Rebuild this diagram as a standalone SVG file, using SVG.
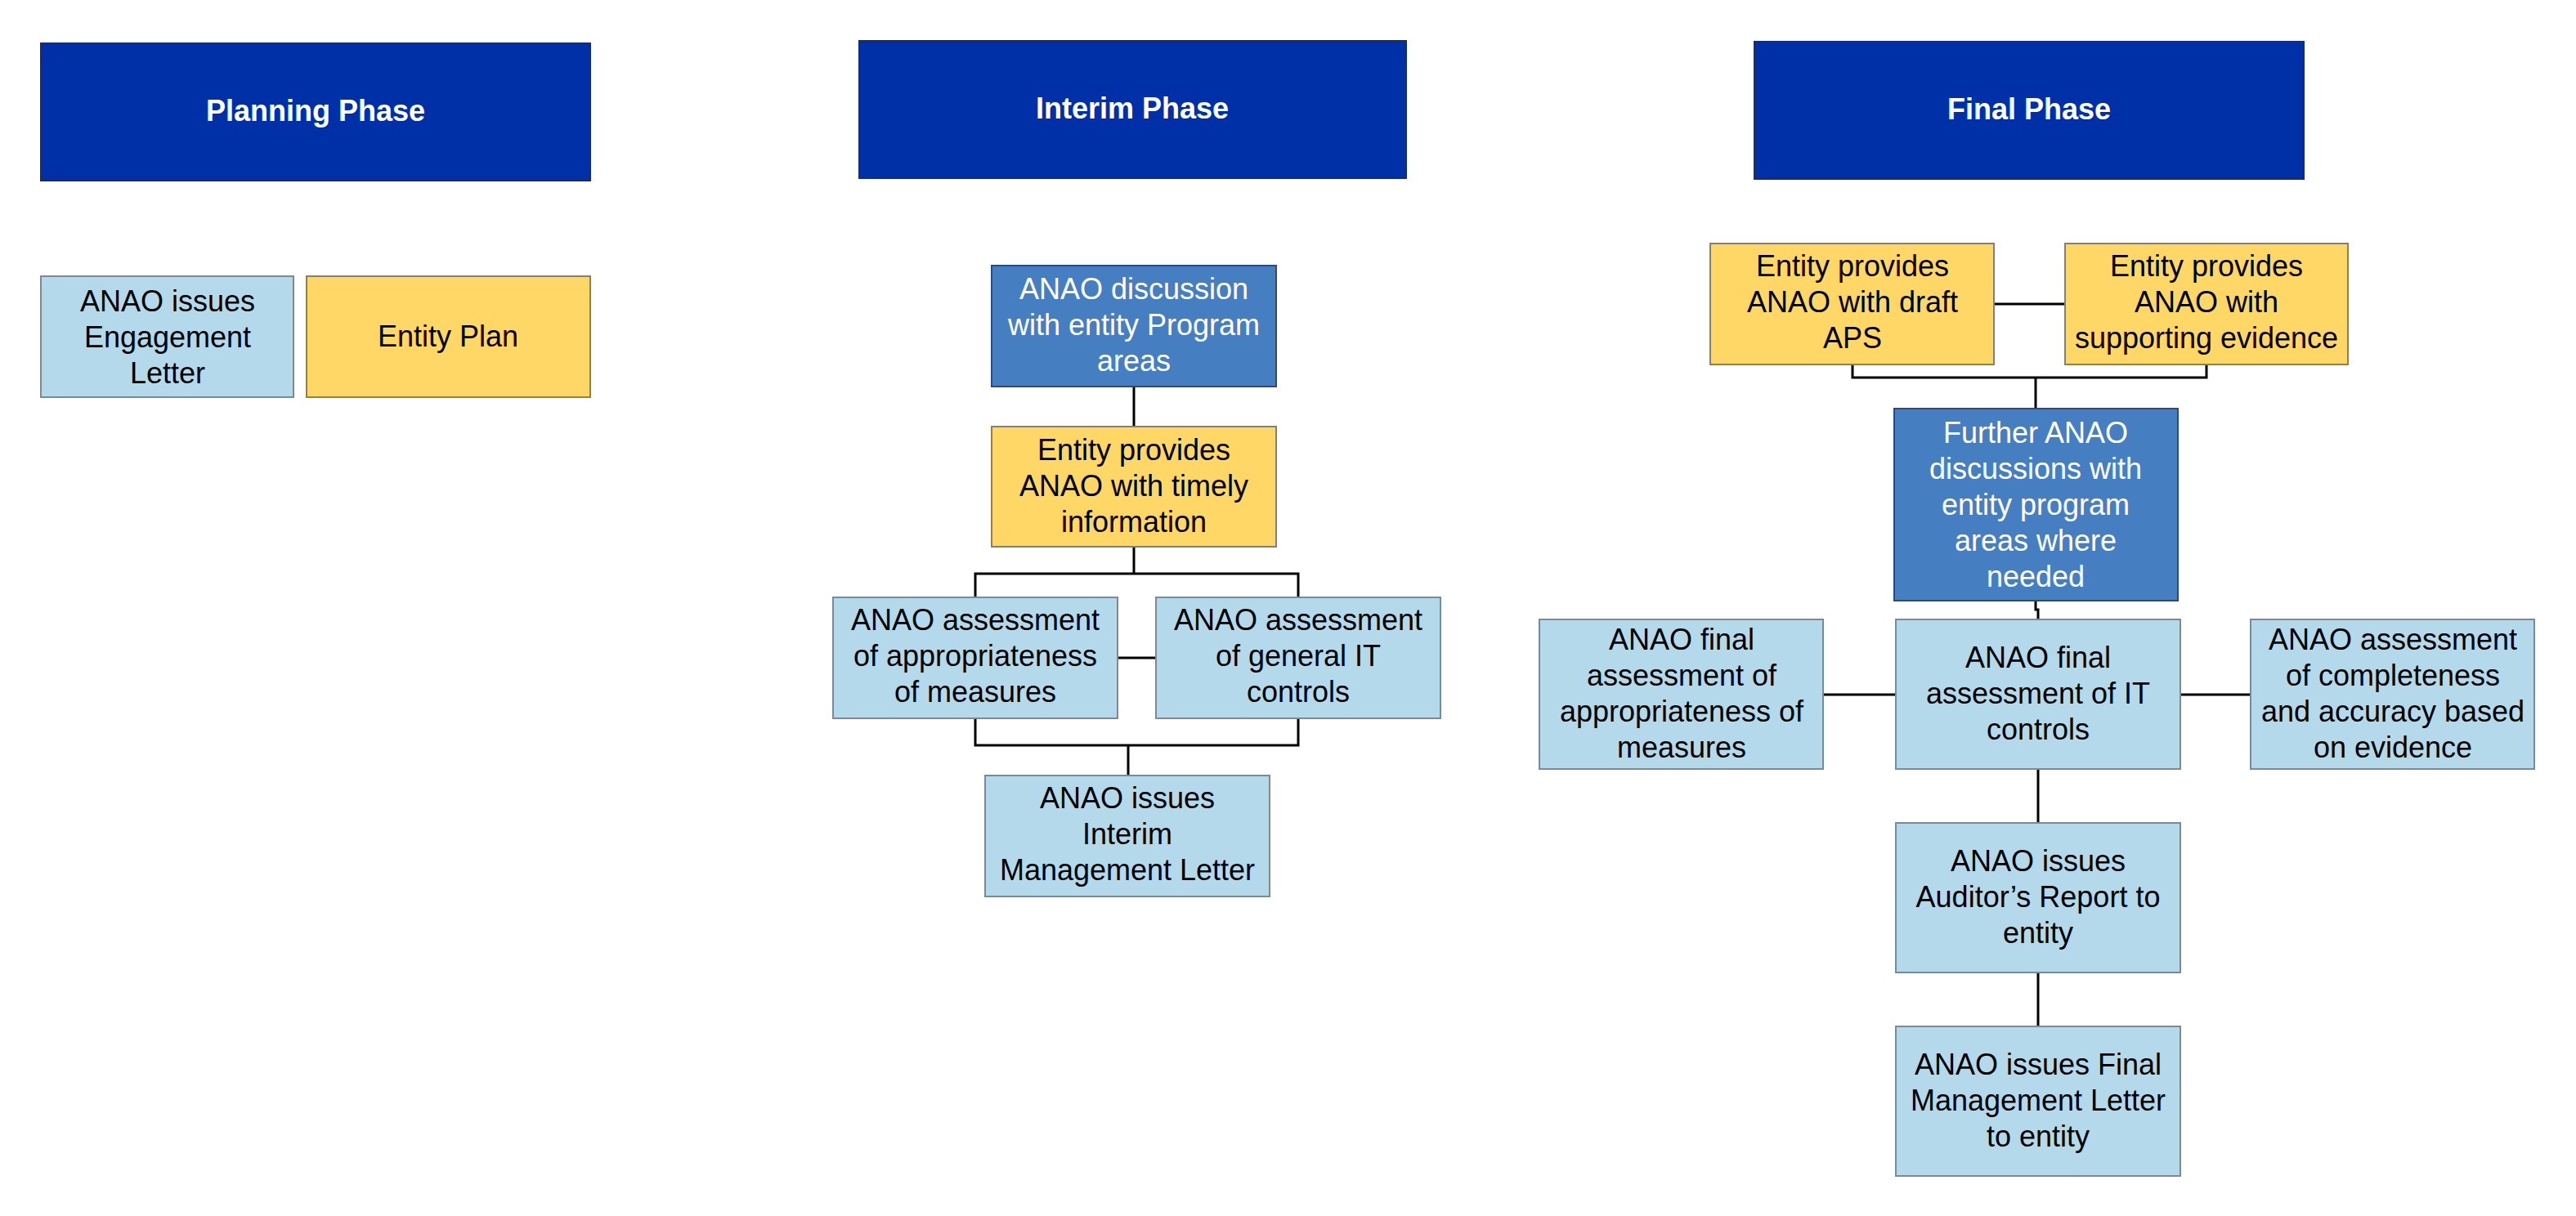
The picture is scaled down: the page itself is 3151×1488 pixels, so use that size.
<svg xmlns="http://www.w3.org/2000/svg" width="3151" height="1488" viewBox="0 0 3151 1488">
<style>
text{font-family:"Liberation Sans",Arial,sans-serif;font-size:36px;text-anchor:middle;fill:#000}
.hdr rect{fill:#0030A8;stroke:#1a2a6a;stroke-width:2}
.hdr text{fill:#fff;font-weight:bold}
.lb rect{fill:#B4D9EB;stroke:#7a8a99;stroke-width:2}
.ye rect{fill:#FED766;stroke:#8a8060;stroke-width:2}
.mb rect{fill:#467FC1;stroke:#2a4a80;stroke-width:2}
.mb text{fill:#fff}
#connectors path{fill:none;stroke:#000;stroke-width:3}
</style>
<rect width="3151" height="1488" fill="#fff"/>
<g id="connectors">
<path d="M1387 473V522"/>
<path d="M1387 669V702M1193 731V702H1588V731"/>
<path d="M1367 805H1414"/>
<path d="M1193 879V912H1588V879M1380 912V949"/>
<path d="M2439 372H2526"/>
<path d="M2266 446V462H2699V446M2490 462V500"/>
<path d="M2490 735V746H2493V758"/>
<path d="M2230 850H2319M2667 850H2753"/>
<path d="M2493 941V1007"/>
<path d="M2493 1190V1256"/>
</g>
<g id="h_planning" class="hdr"><rect x="50" y="53" width="672" height="168"/><text x="386" y="148">Planning Phase</text></g>
<g id="h_interim" class="hdr"><rect x="1051" y="50" width="669" height="168"/><text x="1385" y="145">Interim Phase</text></g>
<g id="h_final" class="hdr"><rect x="2146" y="51" width="672" height="168"/><text x="2482" y="146">Final Phase</text></g>
<g id="n_engagement" class="lb"><rect x="50" y="338" width="309" height="148"/><text x="205" y="381">ANAO issues</text><text x="205" y="425">Engagement</text><text x="205" y="469">Letter</text></g>
<g id="n_entityplan" class="ye"><rect x="375" y="338" width="347" height="148"/><text x="548" y="424">Entity Plan</text></g>
<g id="n_discussion" class="mb"><rect x="1213" y="325" width="348" height="148"/><text x="1387" y="366">ANAO discussion</text><text x="1387" y="410">with entity Program</text><text x="1387" y="454">areas</text></g>
<g id="n_timely" class="ye"><rect x="1213" y="522" width="348" height="147"/><text x="1387" y="563">Entity provides</text><text x="1387" y="607">ANAO with timely</text><text x="1387" y="651">information</text></g>
<g id="n_appr" class="lb"><rect x="1019" y="731" width="348" height="148"/><text x="1193" y="771">ANAO assessment</text><text x="1193" y="815">of appropriateness</text><text x="1193" y="859">of measures</text></g>
<g id="n_genit" class="lb"><rect x="1414" y="731" width="348" height="148"/><text x="1588" y="771">ANAO assessment</text><text x="1588" y="815">of general IT</text><text x="1588" y="859">controls</text></g>
<g id="n_iml" class="lb"><rect x="1205" y="949" width="348" height="148"/><text x="1379" y="989">ANAO issues</text><text x="1379" y="1033">Interim</text><text x="1379" y="1077">Management Letter</text></g>
<g id="n_draft" class="ye"><rect x="2092" y="298" width="347" height="148"/><text x="2266" y="338">Entity provides</text><text x="2266" y="382">ANAO with draft</text><text x="2266" y="426">APS</text></g>
<g id="n_support" class="ye"><rect x="2526" y="298" width="346" height="148"/><text x="2699" y="338">Entity provides</text><text x="2699" y="382">ANAO with</text><text x="2699" y="426">supporting evidence</text></g>
<g id="n_further" class="mb"><rect x="2317" y="500" width="347" height="235"/><text x="2490" y="542">Further ANAO</text><text x="2490" y="586">discussions with</text><text x="2490" y="630">entity program</text><text x="2490" y="674">areas where</text><text x="2490" y="718">needed</text></g>
<g id="n_finalappr" class="lb"><rect x="1883" y="758" width="347" height="183"/><text x="2057" y="795">ANAO final</text><text x="2057" y="839">assessment of</text><text x="2057" y="883">appropriateness of</text><text x="2057" y="927">measures</text></g>
<g id="n_finalit" class="lb"><rect x="2319" y="758" width="348" height="183"/><text x="2493" y="817">ANAO final</text><text x="2493" y="861">assessment of IT</text><text x="2493" y="905">controls</text></g>
<g id="n_complete" class="lb"><rect x="2753" y="758" width="347" height="183"/><text x="2927" y="795">ANAO assessment</text><text x="2927" y="839">of completeness</text><text x="2927" y="883">and accuracy based</text><text x="2927" y="927">on evidence</text></g>
<g id="n_auditor" class="lb"><rect x="2319" y="1007" width="348" height="183"/><text x="2493" y="1066">ANAO issues</text><text x="2493" y="1110">Auditor’s Report to</text><text x="2493" y="1154">entity</text></g>
<g id="n_finalml" class="lb"><rect x="2319" y="1256" width="348" height="183"/><text x="2493" y="1315">ANAO issues Final</text><text x="2493" y="1359">Management Letter</text><text x="2493" y="1403">to entity</text></g>
</svg>
